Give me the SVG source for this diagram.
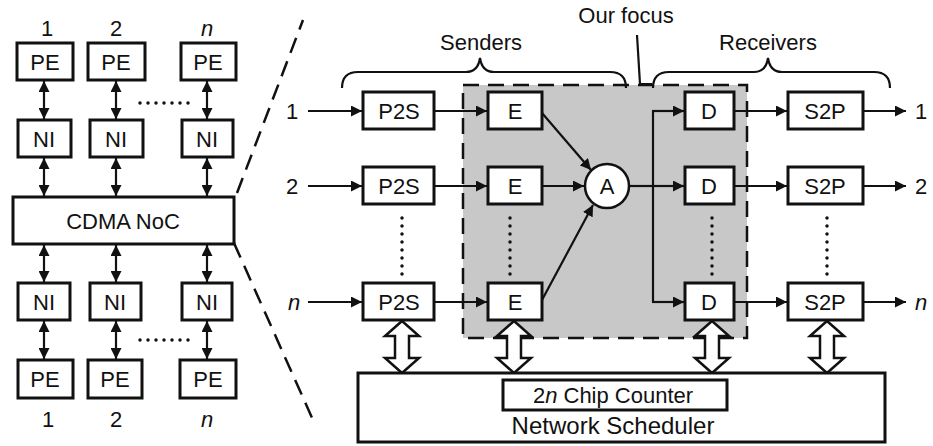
<svg xmlns="http://www.w3.org/2000/svg" width="933" height="446" viewBox="0 0 933 446">
<style>
text{font-family:"Liberation Sans",Arial,sans-serif;fill:#111;}
.box{fill:#fff;stroke:#111;stroke-width:3;}
.t{font-size:22px;text-anchor:middle;}
.lbl{font-size:22px;text-anchor:middle;}
.it{font-style:italic;}
.ln{stroke:#111;stroke-width:2.2;fill:none;}
.dot{stroke:#111;stroke-width:3.5;stroke-linecap:round;stroke-dasharray:0 8;fill:none;}
.dash{stroke:#111;stroke-width:2.5;stroke-dasharray:16 9;fill:none;}
.harr{fill:#fff;stroke:#111;stroke-width:2.5;stroke-linejoin:miter;}
</style>
<defs>
<marker id="ah" viewBox="0 0 10 10" refX="10" refY="5" markerWidth="11" markerHeight="11" markerUnits="userSpaceOnUse" orient="auto-start-reverse"><path d="M0,0 L10,5 L0,10 Z" fill="#111"/></marker>
</defs>

<!-- focus region -->
<rect x="463" y="85" width="284" height="253" fill="#c8c8c8" stroke="none"/>
<rect x="463" y="85" width="284" height="253" class="dash"/>

<!-- zoom lines -->
<line x1="237" y1="193" x2="303" y2="20" class="dash"/>
<line x1="234" y1="243" x2="313" y2="420" class="dash"/>

<!-- braces and top labels -->
<path class="ln" d="M342,88 Q342,72 358,72 L466,72 Q478,72 480,58 Q482,72 494,72 L610,72 Q626,72 626,88"/>
<path class="ln" d="M653,88 Q653,72 669,72 L754,72 Q766,72 768,58 Q770,72 782,72 L874,72 Q890,72 890,88"/>
<text class="lbl" x="481" y="50">Senders</text>
<text class="lbl" x="768" y="50">Receivers</text>
<text class="lbl" x="626" y="23">Our focus</text>
<path class="ln" d="M637,35 L640,84 L652,84"/>

<g id="connectors">
<!-- left column -->
<line class="ln" x1="44" y1="81" x2="44" y2="119" marker-start="url(#ah)" marker-end="url(#ah)"/>
<line class="ln" x1="116" y1="81" x2="116" y2="119" marker-start="url(#ah)" marker-end="url(#ah)"/>
<line class="ln" x1="207" y1="81" x2="207" y2="119" marker-start="url(#ah)" marker-end="url(#ah)"/>
<line class="ln" x1="44" y1="158" x2="44" y2="196" marker-start="url(#ah)" marker-end="url(#ah)"/>
<line class="ln" x1="116" y1="158" x2="116" y2="196" marker-start="url(#ah)" marker-end="url(#ah)"/>
<line class="ln" x1="207" y1="158" x2="207" y2="196" marker-start="url(#ah)" marker-end="url(#ah)"/>
<line class="ln" x1="44" y1="245" x2="44" y2="282" marker-start="url(#ah)" marker-end="url(#ah)"/>
<line class="ln" x1="116" y1="245" x2="116" y2="282" marker-start="url(#ah)" marker-end="url(#ah)"/>
<line class="ln" x1="207" y1="245" x2="207" y2="282" marker-start="url(#ah)" marker-end="url(#ah)"/>
<line class="ln" x1="44" y1="321" x2="44" y2="359" marker-start="url(#ah)" marker-end="url(#ah)"/>
<line class="ln" x1="116" y1="321" x2="116" y2="359" marker-start="url(#ah)" marker-end="url(#ah)"/>
<line class="ln" x1="207" y1="321" x2="207" y2="359" marker-start="url(#ah)" marker-end="url(#ah)"/>
<line class="dot" x1="140" y1="103" x2="194" y2="103"/>
<line class="dot" x1="140" y1="340" x2="194" y2="340"/>

<!-- inputs -->
<line class="ln" x1="308" y1="111" x2="362" y2="111" marker-end="url(#ah)"/>
<line class="ln" x1="308" y1="186" x2="362" y2="186" marker-end="url(#ah)"/>
<line class="ln" x1="308" y1="302" x2="362" y2="302" marker-end="url(#ah)"/>
<!-- P2S to E -->
<line class="ln" x1="434" y1="111" x2="487" y2="111" marker-end="url(#ah)"/>
<line class="ln" x1="434" y1="186" x2="487" y2="186" marker-end="url(#ah)"/>
<line class="ln" x1="434" y1="302" x2="487" y2="302" marker-end="url(#ah)"/>
<!-- E to A -->
<line class="ln" x1="542" y1="113" x2="591" y2="170" marker-end="url(#ah)"/>
<line class="ln" x1="542" y1="186" x2="584" y2="186" marker-end="url(#ah)"/>
<line class="ln" x1="542" y1="300" x2="593" y2="205" marker-end="url(#ah)"/>
<!-- A to D -->
<line class="ln" x1="629" y1="186" x2="653" y2="186"/>
<line class="ln" x1="653" y1="111" x2="653" y2="302"/>
<line class="ln" x1="652" y1="111" x2="684" y2="111" marker-end="url(#ah)"/>
<line class="ln" x1="653" y1="186" x2="684" y2="186" marker-end="url(#ah)"/>
<line class="ln" x1="652" y1="302" x2="684" y2="302" marker-end="url(#ah)"/>
<!-- D to S2P -->
<line class="ln" x1="734" y1="111" x2="787" y2="111" marker-end="url(#ah)"/>
<line class="ln" x1="734" y1="186" x2="787" y2="186" marker-end="url(#ah)"/>
<line class="ln" x1="734" y1="302" x2="787" y2="302" marker-end="url(#ah)"/>
<!-- outputs -->
<line class="ln" x1="863" y1="111" x2="906" y2="111" marker-end="url(#ah)"/>
<line class="ln" x1="863" y1="186" x2="906" y2="186" marker-end="url(#ah)"/>
<line class="ln" x1="863" y1="302" x2="906" y2="302" marker-end="url(#ah)"/>
<!-- vertical dots -->
<line class="dot" x1="402" y1="218" x2="402" y2="276"/>
<line class="dot" x1="510" y1="218" x2="510" y2="276"/>
<line class="dot" x1="712" y1="218" x2="712" y2="276"/>
<line class="dot" x1="827" y1="218" x2="827" y2="276"/>
<!-- hollow double arrows -->
<path class="harr" d="M402,321 L419,336 L409,336 L409,358 L419,358 L402,373 L385,358 L395,358 L395,336 L385,336 Z"/>
<path class="harr" d="M514,321 L531,336 L521,336 L521,358 L531,358 L514,373 L497,358 L507,358 L507,336 L497,336 Z"/>
<path class="harr" d="M712,321 L729,336 L719,336 L719,358 L729,358 L712,373 L695,358 L705,358 L705,336 L695,336 Z"/>
<path class="harr" d="M827,321 L844,336 L834,336 L834,358 L844,358 L827,373 L810,358 L820,358 L820,336 L810,336 Z"/>
</g>

<!-- left column nodes -->
<text class="lbl" x="47" y="36">1</text>
<text class="lbl" x="116" y="36">2</text>
<text class="lbl it" x="207" y="36">n</text>
<g id="pe1t"><rect class="box" x="17" y="43" width="56" height="37"/><text class="t" x="45" y="70">PE</text></g>
<g id="pe2t"><rect class="box" x="88" y="43" width="57" height="37"/><text class="t" x="116" y="70">PE</text></g>
<g id="pent"><rect class="box" x="181" y="43" width="55" height="37"/><text class="t" x="208" y="70">PE</text></g>
<g id="ni1t"><rect class="box" x="18" y="120" width="53" height="37"/><text class="t" x="44" y="147">NI</text></g>
<g id="ni2t"><rect class="box" x="90" y="120" width="53" height="37"/><text class="t" x="116" y="147">NI</text></g>
<g id="nint"><rect class="box" x="182" y="120" width="51" height="37"/><text class="t" x="207" y="147">NI</text></g>
<g id="cdma"><rect class="box" x="13" y="197" width="221" height="47"/><text class="t" x="123" y="229">CDMA NoC</text></g>
<g id="ni1b"><rect class="box" x="18" y="283" width="52" height="37"/><text class="t" x="44" y="310">NI</text></g>
<g id="ni2b"><rect class="box" x="90" y="283" width="51" height="37"/><text class="t" x="115" y="310">NI</text></g>
<g id="ninb"><rect class="box" x="182" y="283" width="50" height="37"/><text class="t" x="207" y="310">NI</text></g>
<g id="pe1b"><rect class="box" x="18" y="360" width="55" height="38"/><text class="t" x="45" y="387">PE</text></g>
<g id="pe2b"><rect class="box" x="88" y="360" width="54" height="38"/><text class="t" x="115" y="387">PE</text></g>
<g id="penb"><rect class="box" x="180" y="360" width="56" height="38"/><text class="t" x="208" y="387">PE</text></g>
<text class="lbl" x="48" y="427">1</text>
<text class="lbl" x="116" y="427">2</text>
<text class="lbl it" x="207" y="427">n</text>

<!-- right side -->
<text class="lbl" x="292" y="119">1</text>
<text class="lbl" x="292" y="194">2</text>
<text class="lbl it" x="294" y="310">n</text>
<g id="p2s1"><rect class="box" x="363" y="92" width="71" height="37"/><text class="t" x="399" y="119">P2S</text></g>
<g id="p2s2"><rect class="box" x="363" y="167" width="71" height="37"/><text class="t" x="399" y="194">P2S</text></g>
<g id="p2sn"><rect class="box" x="363" y="283" width="71" height="37"/><text class="t" x="399" y="310">P2S</text></g>
<g id="e1"><rect class="box" x="488" y="92" width="54" height="37"/><text class="t" x="515" y="119">E</text></g>
<g id="e2"><rect class="box" x="488" y="167" width="54" height="37"/><text class="t" x="515" y="194">E</text></g>
<g id="en"><rect class="box" x="488" y="283" width="54" height="37"/><text class="t" x="515" y="310">E</text></g>
<g id="a"><circle cx="607" cy="186" r="22" fill="#fff" stroke="#111" stroke-width="2.5"/><text class="t" x="607" y="194">A</text></g>
<g id="d1"><rect class="box" x="685" y="92" width="49" height="37"/><text class="t" x="709" y="119">D</text></g>
<g id="d2"><rect class="box" x="685" y="167" width="49" height="37"/><text class="t" x="709" y="194">D</text></g>
<g id="dn"><rect class="box" x="685" y="283" width="49" height="37"/><text class="t" x="709" y="310">D</text></g>
<g id="s2p1"><rect class="box" x="788" y="92" width="75" height="37"/><text class="t" x="825" y="119">S2P</text></g>
<g id="s2p2"><rect class="box" x="788" y="167" width="75" height="37"/><text class="t" x="825" y="194">S2P</text></g>
<g id="s2pn"><rect class="box" x="788" y="283" width="75" height="37"/><text class="t" x="825" y="310">S2P</text></g>
<text class="lbl" x="921" y="119">1</text>
<text class="lbl" x="921" y="194">2</text>
<text class="lbl it" x="921" y="310">n</text>

<g id="scheduler">
<rect class="box" x="358" y="373" width="527" height="69"/>
<rect class="box" x="503" y="380" width="224" height="30"/>
<text class="t" x="613" y="403"><tspan>2</tspan><tspan class="it">n</tspan><tspan> Chip Counter</tspan></text>
<text class="t" x="613" y="434" style="font-size:24px">Network Scheduler</text>
</g>
</svg>
